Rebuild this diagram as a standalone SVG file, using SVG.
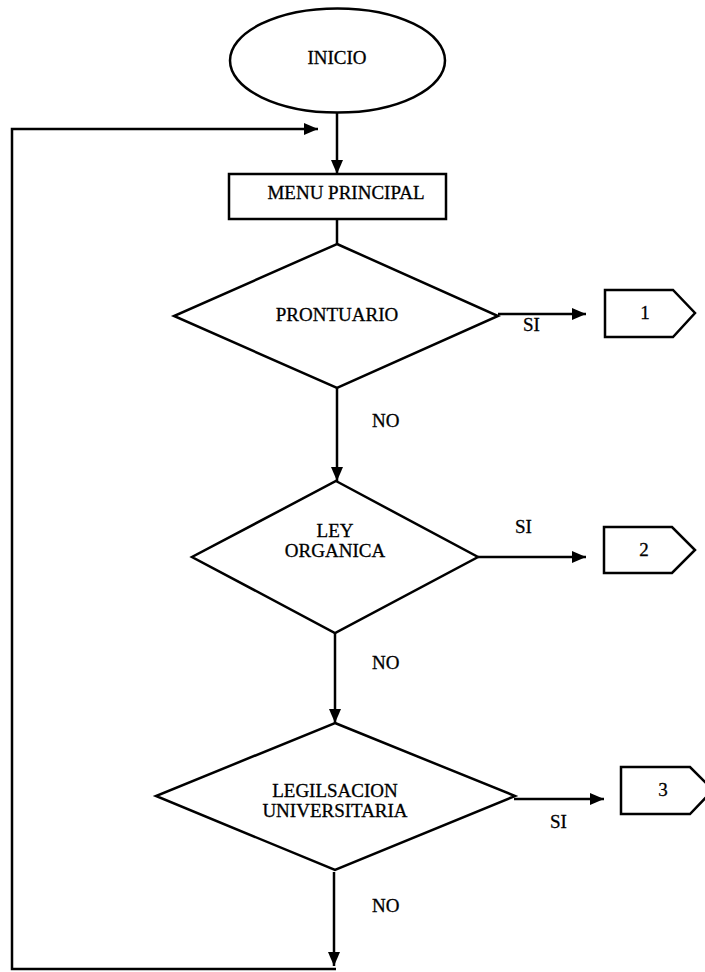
<svg xmlns="http://www.w3.org/2000/svg" width="705" height="972" viewBox="0 0 705 972">
<defs>
<marker id="ah" viewBox="0 0 14 12" refX="14" refY="6" markerWidth="14" markerHeight="12" markerUnits="userSpaceOnUse" orient="auto">
<path d="M0,0 L14,6 L0,12 Z" fill="#000"/>
</marker>
</defs>
<style>
.shape{fill:#fff;stroke:#000;stroke-width:2.5;stroke-linejoin:miter}
.ln{fill:none;stroke:#000;stroke-width:2.5}
.t{font-family:"Liberation Serif","Times New Roman",serif;font-size:19px;fill:#000;stroke:#000;stroke-width:0.3;text-anchor:middle}
.lbl{font-family:"Liberation Serif","Times New Roman",serif;font-size:19px;fill:#000;stroke:#000;stroke-width:0.3}
</style>
<rect width="705" height="972" fill="#fff"/>
<g id="connectors">
<path class="ln" d="M337,113 L337,174" marker-end="url(#ah)"/>
<path class="ln" d="M337,219 L337,244"/>
<path class="ln" d="M498,314 L586,314" marker-end="url(#ah)"/>
<path class="ln" d="M337,388 L337,481" marker-end="url(#ah)"/>
<path class="ln" d="M478,557 L586,557" marker-end="url(#ah)"/>
<path class="ln" d="M335,633 L335,723" marker-end="url(#ah)"/>
<path class="ln" d="M514,799 L604,799" marker-end="url(#ah)"/>
<path class="ln" d="M334,872 L334,966" marker-end="url(#ah)"/>
<path class="ln" d="M336,969 L12,969 L12,129 L318,129" marker-end="url(#ah)"/>
<text class="lbl" x="523" y="331">SI</text>
<text class="lbl" x="372" y="427">NO</text>
<text class="lbl" x="515" y="533">SI</text>
<text class="lbl" x="372" y="669">NO</text>
<text class="lbl" x="550" y="828">SI</text>
<text class="lbl" x="372" y="912">NO</text>
</g>
<g id="inicio">
<ellipse class="shape" cx="337.5" cy="60.5" rx="107.5" ry="52"/>
<text class="t" x="337" y="64">INICIO</text>
</g>
<g id="menu">
<rect class="shape" x="229" y="174" width="217" height="45"/>
<text class="t" x="346" y="199">MENU PRINCIPAL</text>
</g>
<g id="prontuario">
<polygon class="shape" points="337,244 498,316 337,388 174,316"/>
<text class="t" x="337" y="321">PRONTUARIO</text>
</g>
<g id="ley">
<polygon class="shape" points="336,481 478,557 335,633 192,557"/>
<text class="t" x="335" y="537">LEY</text>
<text class="t" x="335" y="557">ORGANICA</text>
</g>
<g id="legislacion">
<polygon class="shape" points="335,723 515,796 335,870 156,796"/>
<text class="t" x="335" y="797">LEGILSACION</text>
<text class="t" x="335" y="817">UNIVERSITARIA</text>
</g>
<g id="c1">
<polygon class="shape" points="605,290 673,290 695,313 673,337 605,337"/>
<text class="t" x="645" y="319">1</text>
</g>
<g id="c2">
<polygon class="shape" points="604,527 672,527 695,550 672,573 604,573"/>
<text class="t" x="644" y="556">2</text>
</g>
<g id="c3">
<polygon class="shape" points="621,767 690,767 713,790 690,814 621,814"/>
<text class="t" x="663" y="796">3</text>
</g>
</svg>
